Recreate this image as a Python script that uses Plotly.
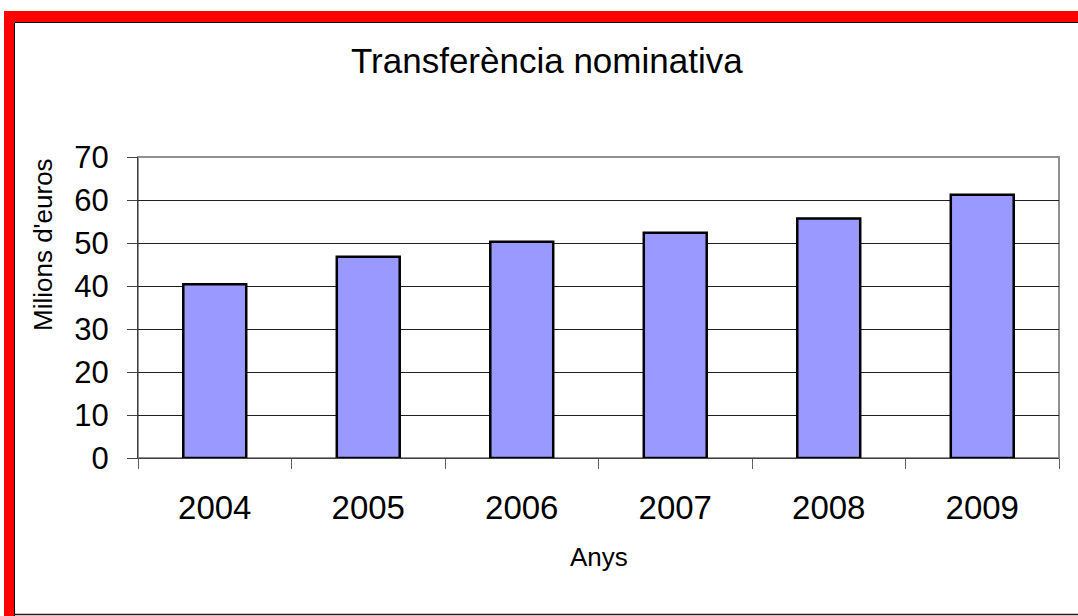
import plotly.graph_objects as go

years = ["2004", "2005", "2006", "2007", "2008", "2009"]
values = [40.4, 46.8, 50.3, 52.4, 55.7, 61.2]
y_ticks = [0, 10, 20, 30, 40, 50, 60, 70]

W, H = 1078, 616
L, R, T, B = 138, 1059, 157, 458
pw, ph = R - L, B - T

def px(x):
    return (x - L) / pw

def py(y):
    return (B - y) / ph

FONT = "Liberation Sans, Arial, sans-serif"

fig = go.Figure()
fig.add_trace(go.Bar(
    x=years, y=values,
    marker=dict(color="#9999FF", line=dict(color="black", width=2.5)),
))

shapes = [
    dict(type="rect", xref="paper", yref="paper", x0=0, x1=1, y0=0, y1=1,
         line=dict(color="#909090", width=2), layer="below"),
    dict(type="rect", xref="paper", yref="paper", x0=px(4), x1=px(1078), y0=py(11), y1=py(22),
         line=dict(width=0), fillcolor="#FF0000"),
    dict(type="rect", xref="paper", yref="paper", x0=px(4), x1=px(14), y0=py(11), y1=py(616),
         line=dict(width=0), fillcolor="#FF0000"),
    dict(type="line", xref="paper", yref="paper", x0=px(14.5), x1=px(1078), y0=py(22.5), y1=py(22.5),
         line=dict(color="black", width=1)),
    dict(type="line", xref="paper", yref="paper", x0=px(14.5), x1=px(14.5), y0=py(22.5), y1=py(616),
         line=dict(color="black", width=1)),
    dict(type="line", xref="paper", yref="paper", x0=px(14), x1=px(1078), y0=py(614.5), y1=py(614.5),
         line=dict(color="#301818", width=1.5)),
]

fig.update_layout(
    width=W, height=H,
    margin=dict(l=L, r=W - R, t=T, b=H - B, pad=0),
    paper_bgcolor="white", plot_bgcolor="white",
    showlegend=False,
    bargap=0.59,
    shapes=shapes,
    font=dict(family=FONT, color="black"),
    annotations=[
        dict(text="Transferència nominativa", xref="paper", yref="paper",
             x=px(547), y=py(60), xanchor="center", yanchor="middle",
             showarrow=False, font=dict(size=35, family=FONT, color="black")),
        dict(text="Anys", xref="paper", yref="paper",
             x=px(599), y=py(557), xanchor="center", yanchor="middle",
             showarrow=False, font=dict(size=26, family=FONT, color="black")),
        dict(text="Milions d'euros", xref="paper", yref="paper",
             x=px(43), y=py(245), xanchor="center", yanchor="middle", textangle=-90,
             showarrow=False, font=dict(size=26, family=FONT, color="black")),
    ],
)

fig.update_xaxes(
    type="category",
    showgrid=False, showline=True, linecolor="#404040", linewidth=1,
    ticks="outside", tickson="boundaries", ticklen=10, tickcolor="#606060", tickwidth=1,
    tickfont=dict(size=33, family=FONT, color="black"),
    ticklabelstandoff=20,
    zeroline=False,
)
fig.update_yaxes(
    range=[0, 70], tickvals=y_ticks,
    showgrid=True, gridcolor="#202020", gridwidth=1,
    showline=True, linecolor="#404040", linewidth=1,
    ticks="outside", ticklen=10, tickcolor="#404040", tickwidth=1,
    tickfont=dict(size=31, family=FONT, color="black"),
    ticklabelstandoff=12,
    zeroline=False,
)

fig.write_html("out.html", config={"displayModeBar": False},
               post_script="document.body.style.margin='0';")
